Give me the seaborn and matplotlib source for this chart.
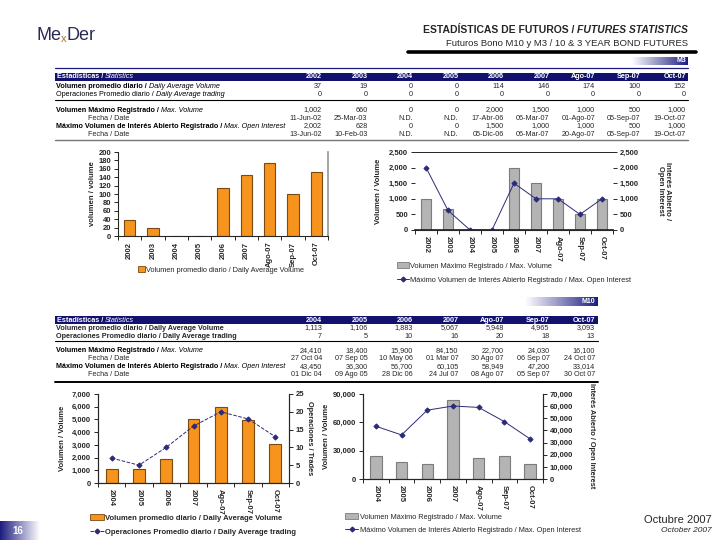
import numpy as np
import matplotlib
matplotlib.use("Agg")
import matplotlib.pyplot as plt
import seaborn as sns
from matplotlib.patches import Rectangle
from matplotlib.lines import Line2D

# --- M3 data (3 year bond futures) ---
m3_periods = ['2002', '2003', '2004', '2005', '2006', '2007', 'Ago-07', 'Sep-07', 'Oct-07']
m3_avg_volume = [37, 19, 0, 0, 114, 146, 174, 100, 152]
m3_avg_trading = [0, 0, 0, 0, 0, 0, 0, 0, 0]
m3_max_volume = [1002, 660, 0, 0, 2000, 1500, 1000, 500, 1000]
m3_max_volume_date = ['11-Jun-02', '25-Mar-03', 'N.D.', 'N.D.', '17-Abr-06', '06-Mar-07',
                      '01-Ago-07', '05-Sep-07', '19-Oct-07']
m3_max_oi = [2002, 628, 0, 0, 1500, 1000, 1000, 500, 1000]
m3_max_oi_date = ['13-Jun-02', '10-Feb-03', 'N.D.', 'N.D.', '05-Dic-06', '06-Mar-07',
                  '20-Ago-07', '05-Sep-07', '19-Oct-07']

# --- M10 data (10 year bond futures) ---
m10_periods = ['2004', '2005', '2006', '2007', 'Ago-07', 'Sep-07', 'Oct-07']
m10_avg_volume = [1113, 1106, 1883, 5067, 5948, 4965, 3093]
m10_avg_trading = [7, 5, 10, 16, 20, 18, 13]
m10_max_volume = [24410, 18400, 15900, 84150, 22700, 24030, 16100]
m10_max_volume_date = ['27 Oct 04', '07 Sep 05', '10 May 06', '01 Mar 07', '30 Ago 07',
                       '06 Sep 07', '24 Oct 07']
m10_max_oi = [43450, 36300, 56700, 60105, 58949, 47200, 33014]
m10_max_oi_date = ['01 Dic 04', '09 Ago 05', '28 Dic 06', '24 Jul 07', '08 Ago 07',
                   '05 Sep 07', '30 Oct 07']

NAVY = '#12126e'
ORANGE = '#f7941d'
ORANGE_EDGE = '#7a4a12'
GRAY = '#b4b4b4'
GRAY_EDGE = '#7c7c7c'
LINE = '#2b2b78'

sns.set_theme(style="ticks")
plt.rcParams['font.family'] = ['Liberation Sans', 'DejaVu Sans']

W, H = 720, 540
fig = plt.figure(figsize=(7.2, 5.4), dpi=100)
fig.patch.set_facecolor('white')
renderer = fig.canvas.get_renderer()


def fx(x):
    return x / W


def fy(y):
    return 1 - y / H


def px_axes(x0, y0, x1, y1):
    return fig.add_axes([fx(x0), fy(y1), (x1 - x0) / W, (y1 - y0) / H])


def hline(x0, x1, y, color='black', lw=0.8):
    fig.add_artist(Line2D([fx(x0), fx(x1)], [fy(y), fy(y)], color=color, lw=lw))


def two_part(x, y, a, b, size, color='black', wa='bold', wb='normal', sb='italic'):
    t = fig.text(fx(x), fy(y), a, fontsize=size, fontweight=wa, color=color,
                 ha='left', va='center')
    bb = t.get_window_extent(renderer)
    fig.text(bb.x1 / fig.bbox.width, fy(y), b, fontsize=size, fontweight=wb,
             style=sb, color=color, ha='left', va='center')


def gradient_box(x0, y0, x1, y1, reverse=False):
    ax = px_axes(x0, y0, x1, y1)
    g = np.linspace(0, 1, 256).reshape(1, -1)
    if reverse:
        g = g[:, ::-1]
    cmap = matplotlib.colors.LinearSegmentedColormap.from_list('g', ['white', '#1c1c80'])
    ax.imshow(g, aspect='auto', cmap=cmap, extent=[0, 1, 0, 1])
    ax.set_axis_off()
    return ax


# ---------------- Header ----------------
logo_font = ['Liberation Sans Narrow', 'Liberation Sans']
t = fig.text(fx(36), fy(36), 'Me', fontsize=13, color='#2a2a55', family=logo_font,
             ha='left', va='center')
bb = t.get_window_extent(renderer)
t = fig.text(bb.x1 / W, fy(39), 'x', fontsize=8, color='#b07020', family=logo_font,
             ha='left', va='center')
bb = t.get_window_extent(renderer)
fig.text(bb.x1 / W, fy(36), 'Der', fontsize=13, color='#2a2a55', family=logo_font,
         ha='left', va='center')

t = fig.text(fx(688), fy(30), 'FUTURES STATISTICS', fontsize=7.5, fontweight='bold',
             style='italic', ha='right', va='center')
bb = t.get_window_extent(renderer)
fig.text(bb.x0 / fig.bbox.width, fy(30), 'ESTADÍSTICAS DE FUTUROS / ', fontsize=7.5,
         fontweight='bold', ha='right', va='center')
fig.text(fx(688), fy(43), 'Futuros Bono M10 y M3 / 10 & 3 YEAR BOND FUTURES',
         fontsize=6.8, ha='right', va='center')
hline(408, 696, 52, lw=2.6)

gradient_box(632, 57, 688, 65)
fig.text(fx(686), fy(61), 'M3', fontsize=5, color='white', fontweight='bold',
         ha='right', va='center')
hline(55, 688, 68, color='#1c1c80', lw=0.9)


# ---------------- Tables ----------------
def draw_table(periods, rows, y_head, right_edges, x_end, bold_first):
    fig.add_artist(Rectangle((fx(55), fy(y_head + 4)), (x_end - 55) / W, 8 / H,
                             facecolor=NAVY, edgecolor='none'))
    two_part(57, y_head, 'Estadísticas / ', 'Statistics', 5.2, color='white')
    for p, xr in zip(periods, right_edges):
        fig.text(fx(xr), fy(y_head), p, fontsize=5.2, color='white', fontweight='bold',
                 ha='right', va='center')
    for i, (y, a, b, vals, indent) in enumerate(rows):
        if indent:
            fig.text(fx(88), fy(y), a, fontsize=5.2, ha='left', va='center')
        elif bold_first and i < 2:
            fig.text(fx(56), fy(y), a + b, fontsize=5.2, fontweight='bold',
                     ha='left', va='center')
        else:
            two_part(56, y, a, b, 5.2, wa='bold' if i != 1 else 'normal')
        for v, xr in zip(vals, right_edges):
            fig.text(fx(xr), fy(y), v, fontsize=5.2, ha='right', va='center')


def fmt(vals):
    return [f"{v:,}" for v in vals]


m3_right = [322 + 45.5 * i for i in range(9)]
m3_rows = [
    (86, 'Volumen promedio diario / ', 'Daily Average Volume', fmt(m3_avg_volume), False),
    (94, 'Operaciones Promedio diario / ', 'Daily Average trading', fmt(m3_avg_trading), False),
    (110, 'Volumen Máximo Registrado / ', 'Max. Volume', fmt(m3_max_volume), False),
    (118, 'Fecha / Date', '', m3_max_volume_date, True),
    (126, 'Máximo Volumen de Interés Abierto Registrado / ', 'Max. Open Interest', fmt(m3_max_oi), False),
    (134, 'Fecha / Date', '', m3_max_oi_date, True),
]
draw_table(m3_periods, m3_rows, 77, m3_right, 688, False)
hline(55, 688, 100, lw=0.8)
hline(55, 688, 139.5, color='#777777', lw=1.0)

gradient_box(525, 297, 598, 306)
fig.text(fx(595), fy(301.5), 'M10', fontsize=5, color='white', fontweight='bold',
         ha='right', va='center')

m10_right = [322 + 45.5 * i for i in range(7)]
m10_rows = [
    (328, 'Volumen promedio diario / ', 'Daily Average Volume', fmt(m10_avg_volume), False),
    (336, 'Operaciones Promedio diario / ', 'Daily Average trading', fmt(m10_avg_trading), False),
    (351, 'Volumen Máximo Registrado / ', 'Max. Volume', fmt(m10_max_volume), False),
    (359, 'Fecha / Date', '', m10_max_volume_date, True),
    (367, 'Máximo Volumen de Interés Abierto Registrado / ', 'Max. Open Interest', fmt(m10_max_oi), False),
    (375, 'Fecha / Date', '', m10_max_oi_date, True),
]
draw_table(m10_periods, m10_rows, 320, m10_right, 598, True)
hline(55, 598, 341, lw=0.8)
hline(55, 598, 381.5, color='black', lw=1.4)


# ---------------- Charts ----------------
def cat_axis(ax, periods, rot):
    n = len(periods)
    ax.set_xlim(-0.5, n - 0.5)
    ax.set_xticks(range(n))
    ax.set_xticklabels(periods, rotation=rot, fontsize=5.5, fontweight='bold')
    ax.tick_params(axis='x', which='major', length=0, pad=4)
    ax.set_xticks(np.arange(-0.5, n), minor=True)
    ax.tick_params(axis='x', which='minor', length=3, width=0.7, direction='out')
    ax.set_xlabel('')


def y_fmt(ax, ticks, size=5.5):
    ax.set_yticks(ticks)
    ax.set_yticklabels([f"{v:,}" for v in ticks], fontsize=size, fontweight='bold')
    ax.tick_params(axis='y', length=3, width=0.7, pad=2)


def bars(ax, periods, vals, color, edge, width):
    sns.barplot(x=periods, y=vals, ax=ax, color=color, edgecolor=edge, linewidth=0.8,
                width=width, saturation=1)


def line(ax, vals, ls='-', marker='D'):
    sns.lineplot(x=np.arange(len(vals)), y=vals, ax=ax, color=LINE, lw=0.7, ls=ls,
                 marker=marker, markersize=2.6, markeredgecolor=LINE)


# M3 chart 1: daily average volume
ax1 = px_axes(118, 152, 328, 236)
bars(ax1, m3_periods, m3_avg_volume, ORANGE, ORANGE_EDGE, 0.48)
ax1.set_ylim(0, 200)
y_fmt(ax1, list(range(0, 201, 20)))
cat_axis(ax1, m3_periods, 90)
ax1.spines['top'].set_visible(False)
ax1.spines['right'].set_color('#999999')
ax1.spines['left'].set_linewidth(0.8)
ax1.spines['bottom'].set_linewidth(0.8)
ax1.set_ylabel('')
fig.text(fx(92), fy(194), 'volumen / volume', rotation=90, fontsize=5.5,
         fontweight='bold', ha='center', va='center')
fig.legend(handles=[Rectangle((0, 0), 1, 1, facecolor=ORANGE, edgecolor=ORANGE_EDGE, lw=0.6)],
           labels=['Volumen promedio diario / Daily Average Volume'],
           loc='center left', bbox_to_anchor=(fx(138), fy(270)), frameon=False,
           prop={'size': 5.3}, handlelength=0.9, handleheight=0.9, handletextpad=0.2,
           borderpad=0, borderaxespad=0)

# M3 chart 2: max volume / max open interest
ax2 = px_axes(415, 152, 613, 230)
bars(ax2, m3_periods, m3_max_volume, GRAY, GRAY_EDGE, 0.43)
ax2.set_ylim(0, 2500)
y_fmt(ax2, list(range(0, 2501, 500)))
ax2b = ax2.twinx()
line(ax2b, m3_max_oi)
ax2b.set_ylim(0, 2500)
y_fmt(ax2b, list(range(0, 2501, 500)))
cat_axis(ax2, m3_periods, 270)
for a in (ax2, ax2b):
    a.spines['left'].set_visible(False)
    a.spines['right'].set_visible(False)
    a.spines['top'].set_linewidth(0.6)
    a.set_ylabel('')
ax2.spines['bottom'].set_linewidth(0.8)
fig.text(fx(379), fy(191), 'Volumen / Volume', rotation=90, fontsize=5.5,
         fontweight='bold', ha='center', va='center')
fig.text(fx(664), fy(191), 'Interés Abierto /\nOpen Interest', rotation=270,
         fontsize=5.5, fontweight='bold', ha='center', va='center', linespacing=1.1)
fig.legend(handles=[Rectangle((0, 0), 1, 1, facecolor=GRAY, edgecolor=GRAY_EDGE, lw=0.6),
                    Line2D([], [], color=LINE, lw=0.7, marker='D', markersize=2.4)],
           labels=['Volumen Máximo Registrado / Max. Volume',
                   'Máximo Volumen de Interés Abierto Registrado / Max. Open Interest'],
           loc='upper left', bbox_to_anchor=(fx(397), fy(262)), frameon=False,
           prop={'size': 5.3}, handlelength=1.6, handleheight=0.9, handletextpad=0.2,
           borderpad=0, borderaxespad=0, labelspacing=0.9)

# M10 chart 1: daily average volume / trading
ax3 = px_axes(98, 394, 289, 483)
bars(ax3, m10_periods, m10_avg_volume, ORANGE, ORANGE_EDGE, 0.43)
ax3.set_ylim(0, 7000)
y_fmt(ax3, list(range(0, 7001, 1000)))
ax3b = ax3.twinx()
line(ax3b, m10_avg_trading, ls='--')
ax3b.set_ylim(0, 25)
y_fmt(ax3b, list(range(0, 26, 5)))
cat_axis(ax3, m10_periods, 270)
for a in (ax3, ax3b):
    a.spines['top'].set_visible(False)
    a.set_ylabel('')
    for s in ['left', 'right', 'bottom']:
        a.spines[s].set_linewidth(0.8)
fig.text(fx(63), fy(438), 'Volumen / Volume', rotation=90, fontsize=5.5,
         fontweight='bold', ha='center', va='center')
fig.text(fx(310), fy(438), 'Operaciones / Trades', rotation=270, fontsize=5.3,
         fontweight='bold', ha='center', va='center')
fig.legend(handles=[Rectangle((0, 0), 1, 1, facecolor=ORANGE, edgecolor=ORANGE_EDGE, lw=0.6),
                    Line2D([], [], color=LINE, lw=0.7, ls='--', marker='D', markersize=2.4)],
           labels=['Volumen promedio diario / Daily Average Volume',
                   'Operaciones Promedio diario / Daily Average trading'],
           loc='upper left', bbox_to_anchor=(fx(90), fy(514)), frameon=False,
           prop={'size': 5.5, 'weight': 'bold'}, handlelength=1.8, handleheight=0.9,
           handletextpad=0.2, borderpad=0, borderaxespad=0, labelspacing=0.8)

# M10 chart 2: max volume / max open interest
ax4 = px_axes(363, 394, 543, 479)
bars(ax4, m10_periods, m10_max_volume, GRAY, GRAY_EDGE, 0.45)
ax4.set_ylim(0, 90000)
y_fmt(ax4, [0, 30000, 60000, 90000])
ax4b = ax4.twinx()
line(ax4b, m10_max_oi)
ax4b.set_ylim(0, 70000)
y_fmt(ax4b, list(range(0, 70001, 10000)))
cat_axis(ax4, m10_periods, 270)
for a in (ax4, ax4b):
    a.spines['top'].set_visible(False)
    a.set_ylabel('')
    for s in ['left', 'right', 'bottom']:
        a.spines[s].set_linewidth(0.8)
fig.text(fx(327), fy(436), 'Volumen / Volume', rotation=90, fontsize=5.5,
         fontweight='bold', ha='center', va='center')
fig.text(fx(592), fy(436), 'Interés Abierto / Open Interest', rotation=270,
         fontsize=5.3, fontweight='bold', ha='center', va='center')
fig.legend(handles=[Rectangle((0, 0), 1, 1, facecolor=GRAY, edgecolor=GRAY_EDGE, lw=0.6),
                    Line2D([], [], color=LINE, lw=0.7, marker='D', markersize=2.4)],
           labels=['Volumen Máximo Registrado / Max. Volume',
                   'Máximo Volumen de Interés Abierto Registrado / Max. Open Interest'],
           loc='upper left', bbox_to_anchor=(fx(345), fy(513)), frameon=False,
           prop={'size': 5.3}, handlelength=1.8, handleheight=0.9, handletextpad=0.2,
           borderpad=0, borderaxespad=0, labelspacing=0.8)

# ---------------- Footer ----------------
gradient_box(0, 521, 40, 540, reverse=True)
fig.text(fx(12), fy(531), '16', fontsize=7, color='white', fontweight='bold',
         ha='left', va='center')
fig.text(fx(712), fy(520), 'Octubre 2007', fontsize=8, ha='right', va='center')
fig.text(fx(712), fy(531), 'October 2007', fontsize=6, style='italic',
         ha='right', va='center')

fig.savefig('out.png', dpi=100)
